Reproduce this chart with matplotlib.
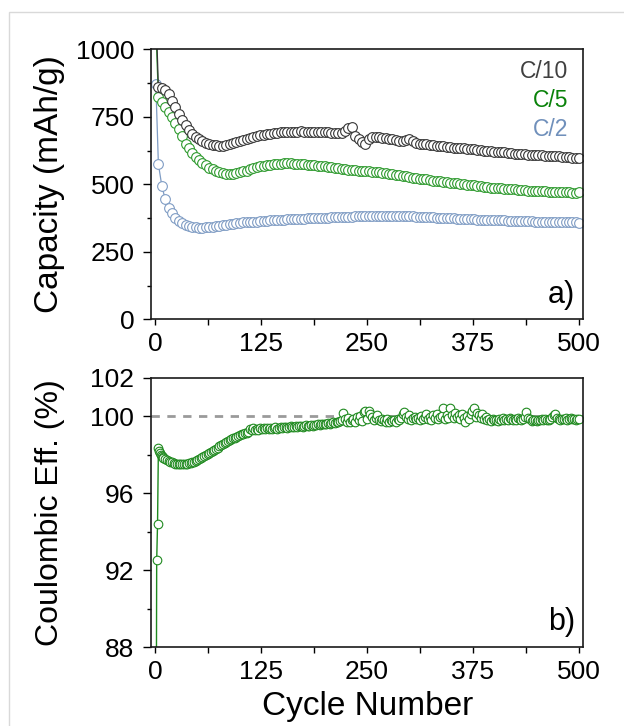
import matplotlib
matplotlib.use('Agg')
import matplotlib.pyplot as plt
from matplotlib.ticker import MultipleLocator, FixedLocator
from matplotlib.patches import Rectangle

plt.rcParams['font.family'] = ['Liberation Sans', 'DejaVu Sans']

# ---------------- data ----------------
cycles = [1] + list(range(4, 501, 4))

cap_c10 = [1150, 860, 857, 849, 836, 810, 785, 760, 738, 719,
           702, 688, 676, 667, 660, 654, 649, 646, 644, 643,
           643, 645, 648, 652, 657, 661, 665, 669, 673, 676,
           679, 682, 684, 686, 688, 690, 691, 692, 693, 694,
           695, 695, 695, 696, 695, 695, 694, 694, 693, 693,
           692, 692, 691, 690, 689, 690, 699, 708, 712, 678,
           666, 656, 651, 668, 675, 676, 674, 672, 670, 668,
           666, 664, 662, 660, 664, 668, 659, 653, 651, 649,
           648, 646, 645, 643, 642, 640, 639, 637, 636, 635,
           634, 633, 631, 630, 629, 627, 626, 624, 623, 622,
           621, 620, 619, 618, 617, 615, 614, 613, 612, 611,
           610, 610, 609, 608, 607, 606, 605, 605, 604, 603,
           602, 601, 600, 599, 598, 597]

cap_c5 = [1080, 822, 803, 785, 767, 748, 728, 705, 680, 650,
          633, 616, 602, 590, 579, 570, 562, 555, 549, 545,
          541, 539, 538, 539, 541, 544, 548, 551, 555, 559,
          563, 566, 569, 571, 573, 575, 576, 577, 578, 578,
          578, 577, 577, 576, 575, 573, 572, 571, 569, 568,
          566, 564, 563, 561, 560, 558, 556, 554, 553, 552,
          551, 550, 549, 548, 546, 545, 544, 543, 541, 539,
          537, 535, 533, 531, 529, 527, 525, 523, 521, 519,
          518, 516, 514, 513, 511, 510, 508, 506, 505, 503,
          502, 500, 499, 497, 496, 494, 493, 491, 490, 488,
          487, 486, 485, 484, 483, 482, 481, 480, 479, 478,
          477, 477, 476, 475, 474, 474, 473, 472, 472, 471,
          471, 470, 470, 469, 469, 470]

cap_c2 = [870, 575, 495, 445, 413, 392, 376, 365, 357, 350,
          346, 342, 340, 339, 339, 340, 341, 342, 344, 346,
          348, 350, 352, 354, 356, 358, 359, 360, 361, 362,
          362, 363, 364, 365, 366, 367, 368, 368, 369, 370,
          371, 371, 372, 373, 373, 374, 375, 375, 376, 376,
          377, 377, 378, 378, 379, 379, 380, 380, 380, 381,
          381, 381, 382, 382, 382, 383, 383, 383, 383, 383,
          383, 382, 382, 382, 381, 381, 381, 380, 380, 379,
          379, 378, 378, 377, 376, 376, 375, 374, 374, 373,
          372, 372, 371, 370, 370, 369, 369, 368, 368, 367,
          367, 366, 366, 366, 365, 365, 364, 364, 364, 363,
          363, 363, 362, 362, 362, 362, 361, 361, 361, 360,
          360, 360, 359, 359, 359, 358]

ce_cycles = list(range(1, 11)) + list(range(12, 501, 2))
ce_values = [75.0, 92.5, 94.4, 98.35, 98.2, 98.1, 98.0, 97.95, 97.9, 97.85,
             97.8, 97.74, 97.69, 97.64, 97.6, 97.56, 97.53, 97.51, 97.5, 97.49,
             97.5, 97.5, 97.52, 97.53, 97.56, 97.58, 97.61, 97.64, 97.68, 97.72,
             97.76, 97.81, 97.86, 97.91, 97.96, 98.02, 98.07, 98.13, 98.19, 98.25,
             98.31, 98.37, 98.43, 98.49, 98.54, 98.6, 98.65, 98.7, 98.75, 98.8,
             98.85, 98.89, 98.93, 98.97, 99.01, 99.05, 99.08, 99.11, 99.15, 99.2,
             99.32, 99.26, 99.38, 99.3, 99.36, 99.29, 99.4, 99.33, 99.37, 99.31,
             99.38, 99.34, 99.41, 99.36, 99.39, 99.43, 99.35, 99.4, 99.44, 99.38,
             99.42, 99.46, 99.4, 99.44, 99.47, 99.42, 99.45, 99.48, 99.44, 99.47,
             99.5, 99.46, 99.49, 99.52, 99.48, 99.51, 99.54, 99.5, 99.56, 99.53,
             99.57, 99.55, 99.6, 99.57, 99.62, 99.59, 99.64, 99.61, 99.66, 99.68,
             99.65, 99.72, 99.7, 99.76, 99.8, 100.15, 99.85, 99.72, 99.9, 99.68,
             99.78, 99.88, 99.7, 99.95, 99.82, 100.02, 99.75, 100.2, 100.28, 99.85,
             100.26, 100.1, 99.95, 99.78, 99.9, 100.05, 99.82, 99.76, 99.88, 99.8,
             99.72, 99.85, 99.68, 99.78, 99.74, 99.82, 99.7, 99.86, 99.8, 99.92,
             100.1, 100.2, 99.95, 99.88, 100.05, 99.82, 99.9, 99.98, 99.85, 99.92,
             99.8, 100.02, 99.88, 99.95, 100.1, 99.85, 99.98, 99.82, 100.05, 99.9,
             100.12, 99.88, 99.95, 100.0, 100.42, 99.85, 100.05, 99.92, 100.44, 100.08,
             99.9, 100.15, 99.95, 100.05, 99.85, 100.1, 99.92, 99.72, 100.0, 99.88,
             100.12, 100.25, 100.44, 99.95, 100.18, 100.05, 99.9, 100.1, 99.85, 99.95,
             99.8, 99.88, 99.76, 99.85, 99.78, 99.82, 99.74, 99.86, 99.8, 99.9,
             99.78, 99.84, 99.8, 99.92, 99.85, 99.78, 99.88, 99.82, 99.9, 99.84,
             99.8, 99.86, 99.95, 100.2, 99.9, 99.84, 99.76, 99.82, 99.78, 99.74,
             99.82, 99.78, 99.86, 99.8, 99.84, 99.78, 99.82, 99.88, 99.95, 100.08,
             100.1, 99.92, 99.85, 99.8, 99.88, 99.84, 99.9, 99.8, 99.86, 99.9,
             99.84, 99.88, 99.82, 99.86, 99.85]

rate_labels = ['C/10', 'C/5', 'C/2']
x_ticks = [0, 125, 250, 375, 500]
cap_ticks = [0, 250, 500, 750, 1000]
ce_ticks = [88, 92, 96, 100, 102]
ce_minor = [90, 94, 98]

# ---------------- style ----------------
col_c10 = '#363636'
col_c5 = '#2e9a2e'
col_c2 = '#7f9cc4'
txt_c10 = '#404040'
txt_c5 = '#0a820a'
txt_c2 = '#7090bb'
col_ce = '#1f8a1f'

fig = plt.figure(figsize=(6.24, 7.26), dpi=100)
fig.patches.append(Rectangle((9 / 624, -0.1), 1.2, 1 - 12 / 726 + 0.1,
                             transform=fig.transFigure, fill=False,
                             edgecolor='#d9d9d9', linewidth=1.0))

ax1 = fig.add_axes([0.242, 0.5602, 0.6928, 0.3719])
ax2 = fig.add_axes([0.242, 0.1088, 0.6928, 0.3709])

mk = dict(marker='o', markersize=7, markerfacecolor='white',
          markeredgewidth=0.8, linewidth=0.9)
ax1.plot(cycles, cap_c2, color=col_c2, markeredgecolor=col_c2, **mk)
ax1.plot(cycles, cap_c5, color=col_c5, markeredgecolor=col_c5, **mk)
ax1.plot(cycles, cap_c10, color=col_c10, markeredgecolor=col_c10, **mk)

ax2.axhline(100, color='#9a9a9a', linewidth=2.0, dashes=(3, 2.7), zorder=1)
ax2.plot(ce_cycles, ce_values, color=col_ce, marker='o', markersize=6.2,
         markerfacecolor='white', markeredgecolor=col_ce,
         markeredgewidth=0.8, linewidth=1.0, zorder=2)

for ax in (ax1, ax2):
    ax.set_xlim(-4.7, 505)
    ax.xaxis.set_major_locator(FixedLocator(x_ticks))
    ax.xaxis.set_minor_locator(MultipleLocator(62.5))
    ax.tick_params(axis='x', which='both', direction='out', length=4.5,
                   width=1.0, labelsize=19, pad=5)
    ax.tick_params(axis='y', which='major', direction='out', length=6,
                   width=1.0, labelsize=19, pad=6)
    ax.tick_params(axis='y', which='minor', direction='out', length=3,
                   width=1.0)
    for s in ax.spines.values():
        s.set_linewidth(1.2)
        s.set_color('#1a1a1a')

ax1.set_ylim(0, 1000)
ax1.yaxis.set_major_locator(FixedLocator(cap_ticks))
ax1.yaxis.set_minor_locator(MultipleLocator(125))
ax1.set_ylabel('Capacity (mAh/g)', fontsize=24)
ax1.yaxis.set_label_coords(-0.199, 0.5)

ax2.set_ylim(88, 102)
ax2.yaxis.set_major_locator(FixedLocator(ce_ticks))
ax2.yaxis.set_minor_locator(FixedLocator(ce_minor))
ax2.set_ylabel('Coulombic Eff. (%)', fontsize=23)
ax2.yaxis.set_label_coords(-0.199, 0.5)
ax2.set_xlabel('Cycle Number', fontsize=24, labelpad=5)

ax1.text(0.965, 0.894, rate_labels[0], transform=ax1.transAxes, ha='right',
         va='baseline', fontsize=16.5, color=txt_c10)
ax1.text(0.965, 0.786, rate_labels[1], transform=ax1.transAxes, ha='right',
         va='baseline', fontsize=16.5, color=txt_c5)
ax1.text(0.965, 0.678, rate_labels[2], transform=ax1.transAxes, ha='right',
         va='baseline', fontsize=16.5, color=txt_c2)

ax1.text(0.981, 0.06, 'a)', transform=ax1.transAxes, ha='right',
         va='baseline', fontsize=22, color='black')
ax2.text(0.981, 0.063, 'b)', transform=ax2.transAxes, ha='right',
         va='baseline', fontsize=22, color='black')

fig.savefig('out.png', dpi=100)
